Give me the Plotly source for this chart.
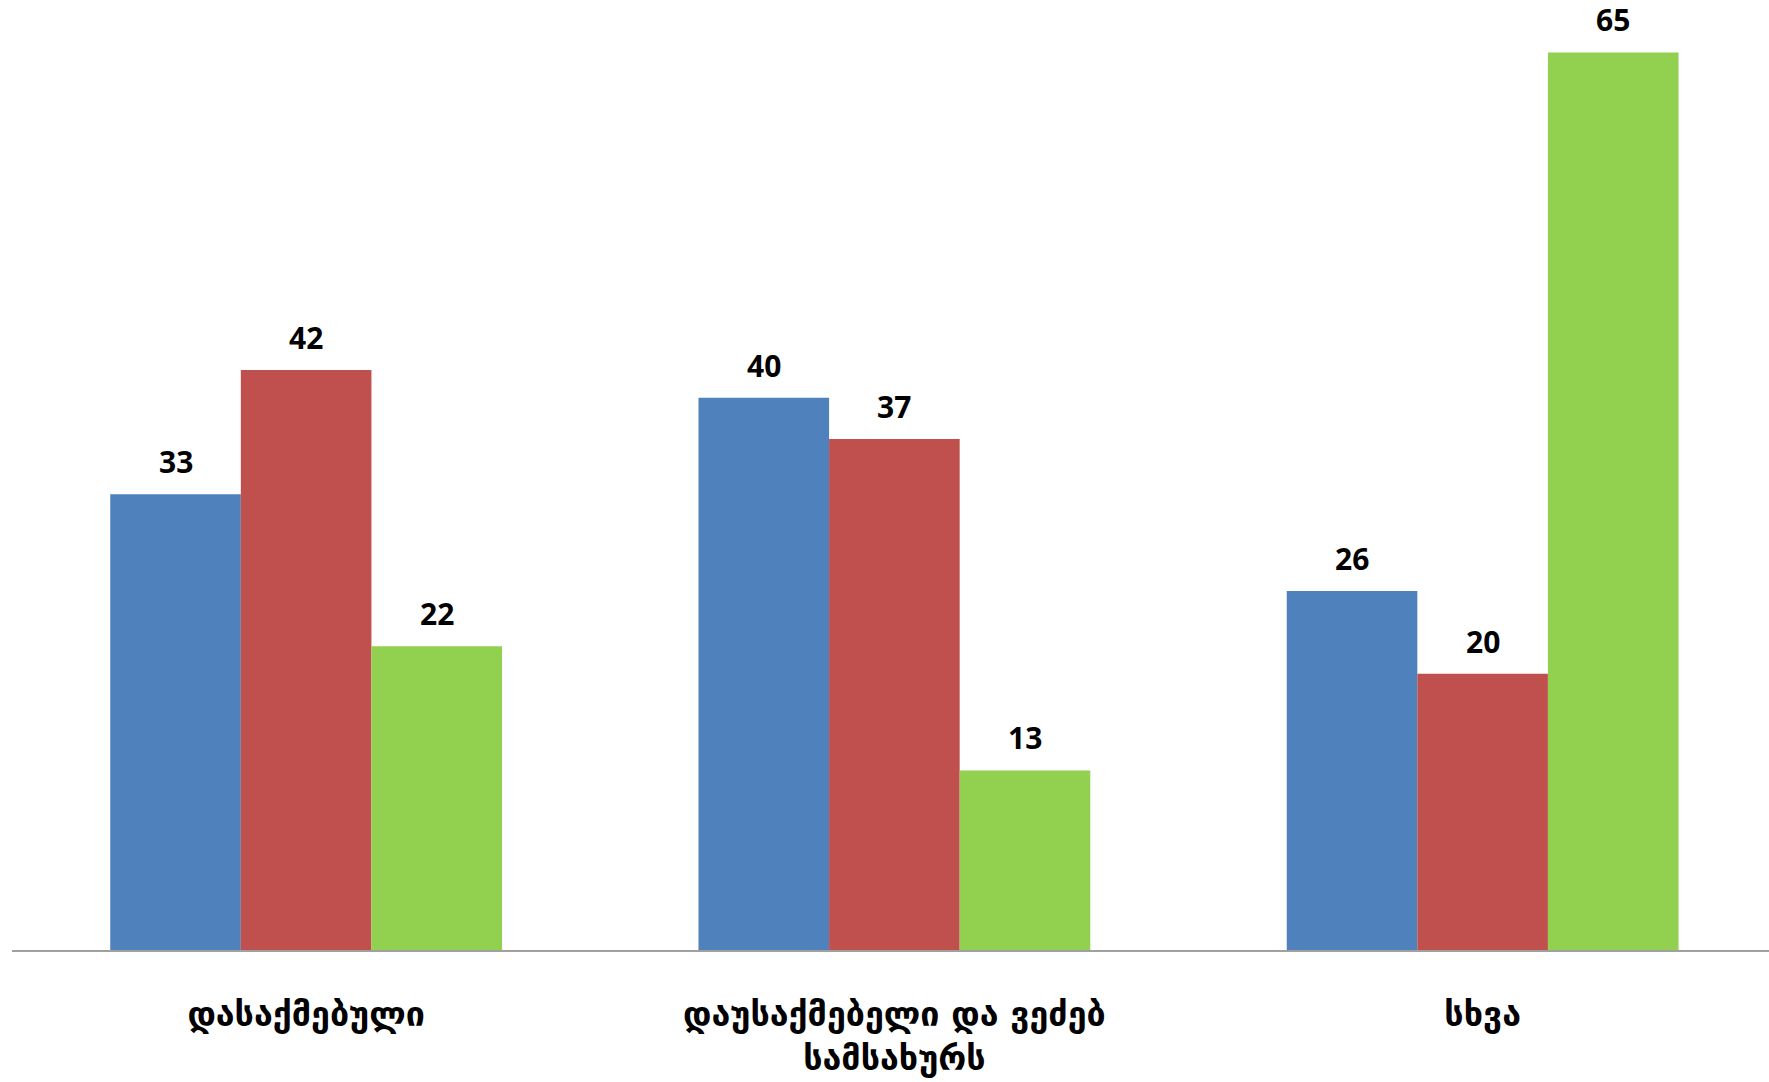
import plotly.graph_objects as go

categories = ["დასაქმებული", "დაუსაქმებელი და ვეძებ<br>სამსახურს", "სხვა"]
series_a = [33, 40, 26]
series_b = [42, 37, 20]
series_c = [22, 13, 65]
series_names = ["A", "B", "C"]
colors = ["#4F81BD", "#C0504D", "#92D050"]

W, H = 1769, 1082
ML, MR, MT, MB = 12, 0, 0, 132
X_RANGE = [-0.5, 2.4868]
Y_RANGE = [0, 68.8]
BARGAP = 0.334

fig = go.Figure()
all_series = [series_a, series_b, series_c]
for name, vals, col in zip(series_names, all_series, colors):
    fig.add_trace(go.Bar(x=categories, y=vals, name=name, marker=dict(color=col, line=dict(width=0)),
                         hoverinfo="x+y"))

plot_w = W - ML - MR
px_per_cat = plot_w / (X_RANGE[1] - X_RANGE[0])
bw_px = px_per_cat * (1 - BARGAP) / len(all_series)

annotations = []
for j, vals in enumerate(all_series):
    for cat, v in zip(categories, vals):
        annotations.append(dict(x=cat, y=v, xref="x", yref="y", text=str(v), showarrow=False,
                                xshift=(j - 1) * bw_px, yshift=10, yanchor="bottom",
                                font=dict(family="Open Sans", size=30, color="#000000", weight="bold")))

fig.update_layout(
    width=W, height=H,
    margin=dict(l=ML, r=MR, t=MT, b=MB, pad=0),
    barmode="group", bargap=BARGAP, bargroupgap=0,
    plot_bgcolor="white", paper_bgcolor="white",
    showlegend=False,
    annotations=annotations,
    xaxis=dict(range=X_RANGE, showline=True, linecolor="#A0A0A0", linewidth=2, ticks="",
               showgrid=False, zeroline=False, ticklabelstandoff=33,
               tickfont=dict(family="DejaVu Sans", size=34, color="#000000", weight="bold")),
    yaxis=dict(range=Y_RANGE, visible=False, showgrid=False, zeroline=False),
)

fig.write_html("out.html", config={"displayModeBar": False},
               post_script="document.body.style.margin='0';")
